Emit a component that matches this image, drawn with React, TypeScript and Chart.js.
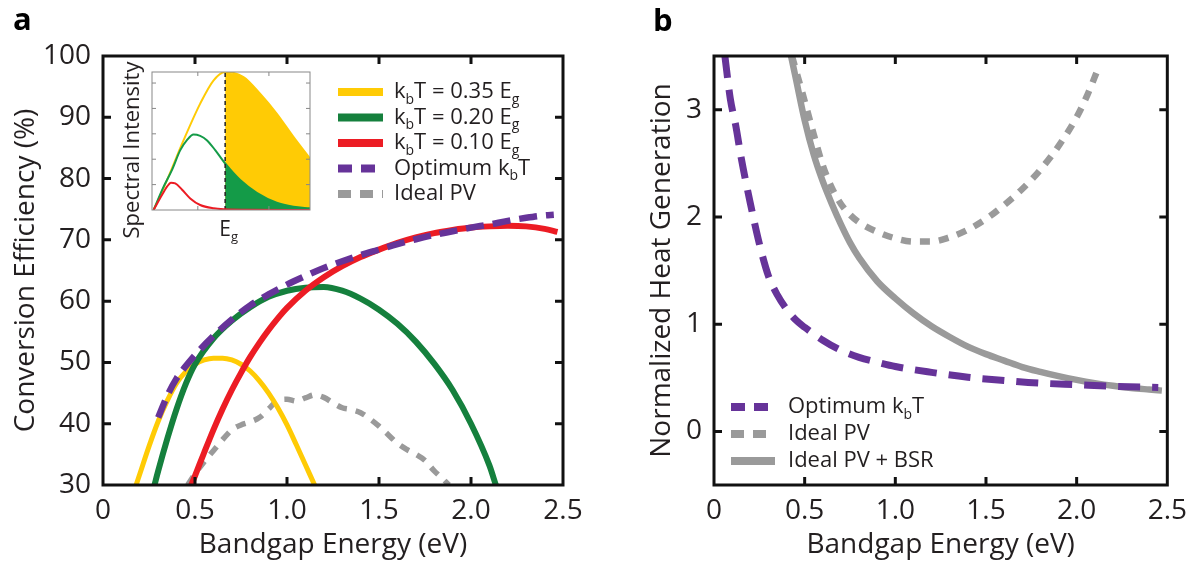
import React, { useEffect, useRef } from 'react';
import { Chart, registerables } from 'chart.js';

Chart.register(...registerables);

const FONT = "'Open Sans', 'Noto Sans', sans-serif";
const INK = '#231F20';

// ---------- Panel a ----------
const X_TICKS = [0, 0.5, 1.0, 1.5, 2.0, 2.5];
const A_Y_TICKS = [30, 40, 50, 60, 70, 80, 90, 100];

const KT_035: [number, number][] = [
  [0.18, 30], [0.2, 31.8], [0.25, 36.3], [0.3, 40.4], [0.35, 43.8], [0.4, 46.6], [0.45, 48.5],
  [0.5, 49.7], [0.55, 50.4], [0.6, 50.7], [0.65, 50.7], [0.7, 50.4], [0.75, 49.7], [0.8, 48.6],
  [0.85, 47.0], [0.9, 45.0], [0.95, 42.6], [1.0, 39.8], [1.05, 36.6], [1.1, 33.3], [1.15, 30],
];
const KT_020: [number, number][] = [
  [0.28, 30], [0.3, 32.3], [0.35, 37.6], [0.4, 42.4], [0.45, 46.5], [0.5, 49.7], [0.6, 53.9],
  [0.7, 56.8], [0.8, 59.0], [0.9, 60.7], [1.0, 61.7], [1.1, 62.2], [1.2, 62.3], [1.3, 61.7],
  [1.4, 60.4], [1.5, 58.6], [1.6, 56.3], [1.7, 53.4], [1.8, 49.8], [1.9, 45.5], [2.0, 40.0],
  [2.1, 33.2], [2.135, 30],
];
const KT_010: [number, number][] = [
  [0.48, 30], [0.5, 31.5], [0.55, 35.3], [0.6, 39.0], [0.65, 42.4], [0.7, 45.5], [0.75, 48.3],
  [0.8, 50.9], [0.85, 53.2], [0.9, 55.3], [0.95, 57.2], [1.0, 58.9], [1.1, 61.7], [1.2, 63.9],
  [1.3, 65.7], [1.4, 67.2], [1.5, 68.4], [1.6, 69.5], [1.7, 70.4], [1.8, 71.1], [1.9, 71.6],
  [2.0, 72.0], [2.1, 72.2], [2.2, 72.3], [2.3, 72.2], [2.4, 71.8], [2.47, 71.3],
];
const OPT_A: [number, number][] = [
  [0.3, 41.0], [0.35, 44.6], [0.4, 47.4], [0.45, 49.4], [0.5, 51.2], [0.6, 54.3], [0.7, 57.0],
  [0.8, 59.3], [0.9, 61.1], [1.0, 62.7], [1.1, 64.1], [1.2, 65.4], [1.3, 66.5], [1.4, 67.5],
  [1.5, 68.4], [1.6, 69.3], [1.7, 70.1], [1.8, 70.8], [1.9, 71.4], [2.0, 72.0], [2.1, 72.5],
  [2.2, 73.1], [2.3, 73.6], [2.4, 74.0], [2.45, 74.1],
];
const IDEAL_A: [number, number][] = [
  [0.46, 30], [0.5, 31.8], [0.55, 33.8], [0.6, 35.6], [0.65, 37.4], [0.7, 39.0], [0.75, 39.8],
  [0.8, 40.3], [0.85, 41.0], [0.9, 42.4], [0.95, 43.8], [1.0, 44.0], [1.05, 43.7], [1.1, 44.2],
  [1.15, 44.7], [1.2, 44.3], [1.25, 43.4], [1.3, 42.6], [1.35, 42.3], [1.4, 41.8], [1.45, 40.8],
  [1.5, 39.6], [1.55, 38.2], [1.6, 36.8], [1.65, 35.8], [1.7, 35.0], [1.75, 34.0], [1.8, 32.3],
  [1.85, 30.9], [1.88, 30],
];

// ---------- Panel b ----------
const B_Y_TICKS = [0, 1, 2, 3];
const OPT_B: [number, number][] = [
  [0.06, 3.5], [0.09, 3.1], [0.12, 2.85], [0.15, 2.55], [0.2, 2.13], [0.25, 1.75], [0.3, 1.45],
  [0.35, 1.27], [0.4, 1.14], [0.45, 1.04], [0.5, 0.97], [0.6, 0.85], [0.7, 0.755], [0.8, 0.69],
  [0.9, 0.645], [1.0, 0.605], [1.2, 0.55], [1.4, 0.505], [1.6, 0.475], [1.8, 0.45], [2.0, 0.435],
  [2.2, 0.42], [2.45, 0.41],
];
const IDEAL_B: [number, number][] = [
  [0.43, 3.5], [0.45, 3.38], [0.5, 3.08], [0.55, 2.77], [0.6, 2.48], [0.65, 2.27], [0.7, 2.12],
  [0.75, 2.02], [0.8, 1.95], [0.9, 1.86], [1.0, 1.8], [1.1, 1.77], [1.2, 1.77], [1.3, 1.81],
  [1.4, 1.88], [1.5, 1.98], [1.6, 2.11], [1.7, 2.26], [1.8, 2.44], [1.9, 2.66], [2.0, 2.93],
  [2.06, 3.14], [2.12, 3.39],
];
const IDEAL_BSR_B: [number, number][] = [
  [0.425, 3.5], [0.45, 3.3], [0.5, 2.9], [0.55, 2.58], [0.6, 2.33], [0.65, 2.12], [0.7, 1.93],
  [0.75, 1.76], [0.8, 1.62], [0.9, 1.4], [1.0, 1.24], [1.1, 1.1], [1.2, 0.98], [1.3, 0.88],
  [1.4, 0.79], [1.5, 0.72], [1.6, 0.66], [1.7, 0.6], [1.8, 0.555], [1.9, 0.515], [2.0, 0.48],
  [2.1, 0.45], [2.2, 0.425], [2.3, 0.405], [2.4, 0.39], [2.47, 0.38],
];

// ---------- Inset (arbitrary units) ----------
const INSET_EG = 4.63;
const INSET_X_TICKS = [2.9, 7.4];
const INSET_Y_TICKS = [0.184, 0.368, 0.552, 0.736, 0.92];
const SPEC_035: [number, number][] = [
  [0.1, 0], [0.95, 0.217], [2.0, 0.506], [3.05, 0.771], [3.9, 0.94], [4.63, 1.0], [5.79, 0.964],
  [6.84, 0.843], [7.89, 0.699], [8.95, 0.53], [10, 0.373],
];
const SPEC_020: [number, number][] = [
  [0.1, 0], [0.7, 0.16], [1.26, 0.289], [1.79, 0.434], [2.21, 0.506], [2.63, 0.547], [3.05, 0.537],
  [3.47, 0.506], [4.0, 0.434], [4.63, 0.337], [5.58, 0.217], [6.63, 0.125], [7.89, 0.053],
  [8.95, 0.024], [10, 0.012],
];
const SPEC_010: [number, number][] = [
  [0.1, 0], [0.63, 0.108], [0.95, 0.169], [1.2, 0.198], [1.47, 0.193], [1.89, 0.149], [2.42, 0.084],
  [3.05, 0.036], [3.9, 0.012], [4.63, 0.005], [6, 0.002], [10, 0],
];

type Seg = [string, boolean];
const LEGEND_A: Seg[][] = [
  [['k', false], ['b', true], ['T = 0.35 E', false], ['g', true]],
  [['k', false], ['b', true], ['T = 0.20 E', false], ['g', true]],
  [['k', false], ['b', true], ['T = 0.10 E', false], ['g', true]],
  [['Optimum k', false], ['b', true], ['T', false]],
  [['Ideal PV', false]],
];
const LEGEND_B: Seg[][] = [
  [['Optimum k', false], ['b', true], ['T', false]],
  [['Ideal PV', false]],
  [['Ideal PV + BSR', false]],
];
const INSET_EG_LABEL: Seg[] = [['E', false], ['g', true]];
const INSET_Y_TITLE = 'Spectral Intensity';

const YELLOW = '#FFCB05';
const GREEN = '#15803D';
const GREEN_INSET = '#149B48';
const RED = '#EC1C24';
const PURPLE = '#663399';
const GREY = '#9A9A9A';

const pts = (a: [number, number][]) => a.map(([x, y]) => ({ x, y }));

function drawRich(ctx: CanvasRenderingContext2D, x: number, y: number, segs: Seg[], size: number, color: string) {
  let cx = x;
  ctx.fillStyle = color;
  ctx.textBaseline = 'middle';
  ctx.textAlign = 'left';
  for (const [t, sub] of segs) {
    const s = sub ? Math.round(size * 0.64) : size;
    ctx.font = `${s}px ${FONT}`;
    ctx.fillText(t, cx, sub ? y + size * 0.36 : y);
    cx += ctx.measureText(t).width;
  }
  return cx - x;
}

// Frame with inward tick marks on all four sides, placed through the chart's own scales.
function makeFramePlugin(xTicks: number[], yTicks: number[], color: string, width: number, tickLen: number) {
  return {
    id: 'frame',
    afterDatasetsDraw(chart: any) {
      const ctx = chart.ctx as CanvasRenderingContext2D;
      const { left, right, top, bottom } = chart.chartArea;
      const xs = chart.scales.x;
      const ys = chart.scales.y;
      ctx.save();
      ctx.strokeStyle = color;
      ctx.lineWidth = width;
      ctx.setLineDash([]);
      ctx.lineCap = 'butt';
      ctx.beginPath();
      for (const v of xTicks) {
        const px = xs.getPixelForValue(v);
        if (px <= left + 2 || px >= right - 2) continue;
        ctx.moveTo(px, bottom); ctx.lineTo(px, bottom - tickLen);
        ctx.moveTo(px, top); ctx.lineTo(px, top + tickLen);
      }
      for (const v of yTicks) {
        const py = ys.getPixelForValue(v);
        if (py <= top + 2 || py >= bottom - 2) continue;
        ctx.moveTo(left, py); ctx.lineTo(left + tickLen, py);
        ctx.moveTo(right, py); ctx.lineTo(right - tickLen, py);
      }
      ctx.stroke();
      ctx.strokeRect(left, top, right - left, bottom - top);
      ctx.restore();
    },
  };
}

const legendPlugin = {
  id: 'richLegend',
  afterDatasetsDraw(chart: any, _a: any, opts: any) {
    if (!opts || !opts.items) return;
    const ctx = chart.ctx as CanvasRenderingContext2D;
    ctx.save();
    opts.items.forEach((it: any, i: number) => {
      const ds = chart.data.datasets[it.dataset];
      const y = opts.y0 + i * opts.dy;
      ctx.beginPath();
      ctx.setLineDash(it.dash ? [...it.dash] : []);
      ctx.lineWidth = opts.lineWidth;
      ctx.lineCap = 'butt';
      ctx.strokeStyle = ds.borderColor;
      ctx.moveTo(opts.x0, y);
      ctx.lineTo(opts.x1, y);
      ctx.stroke();
      ctx.setLineDash([]);
      drawRich(ctx, opts.textX, y, it.label, opts.size, INK);
    });
    ctx.restore();
  },
};

const labelPlugin = {
  id: 'panelLabel',
  afterDraw(chart: any, _a: any, opts: any) {
    if (!opts || !opts.text) return;
    const ctx = chart.ctx as CanvasRenderingContext2D;
    ctx.save();
    ctx.fillStyle = '#000';
    ctx.font = `bold ${opts.size}px ${FONT}`;
    ctx.textBaseline = 'alphabetic';
    ctx.textAlign = 'left';
    ctx.fillText(opts.text, opts.x, opts.y);
    ctx.restore();
  },
};

const insetTextPlugin = {
  id: 'insetText',
  afterDraw(chart: any, _a: any, opts: any) {
    if (!opts || !opts.label) return;
    const ctx = chart.ctx as CanvasRenderingContext2D;
    ctx.save();
    const px = chart.scales.x.getPixelForValue(opts.value);
    ctx.font = `${opts.size}px ${FONT}`;
    const wE = ctx.measureText(opts.label[0][0]).width;
    drawRich(ctx, px - wE / 2, opts.y, opts.label, opts.size, INK);
    ctx.translate(opts.titleX, opts.titleY);
    ctx.rotate(-Math.PI / 2);
    ctx.font = `${opts.titleSize}px ${FONT}`;
    ctx.textAlign = 'center';
    ctx.textBaseline = 'middle';
    ctx.fillStyle = INK;
    ctx.fillText(opts.title, 0, 0);
    ctx.restore();
  },
};

const fmtX = (v: any) => (Number(v) === 0 ? '0' : Number(v).toFixed(1));

function mainScales(yMin: number, yMax: number, yTicks: number[], yTitle: string, yAxisWidth: number, yTitlePad: number) {
  return {
    x: {
      type: 'linear',
      min: 0,
      max: 2.5,
      afterBuildTicks: (s: any) => { s.ticks = X_TICKS.map((v) => ({ value: v })); },
      afterFit: (s: any) => { s.height = 79; },
      grid: { display: false, drawTicks: false },
      border: { display: false },
      ticks: { autoSkip: false, maxRotation: 0, padding: 9, color: INK, font: { size: 28, family: FONT }, callback: fmtX },
      title: { display: true, text: 'Bandgap Energy (eV)', color: INK, font: { size: 28, family: FONT }, padding: { top: 0, bottom: 2 } },
    },
    y: {
      type: 'linear',
      min: yMin,
      max: yMax,
      afterBuildTicks: (s: any) => { s.ticks = yTicks.map((v) => ({ value: v })); },
      afterFit: (s: any) => { s.width = yAxisWidth; },
      grid: { display: false, drawTicks: false },
      border: { display: false },
      ticks: { autoSkip: false, padding: 12, color: INK, font: { size: 28, family: FONT }, callback: (v: any) => String(v) },
      title: { display: true, text: yTitle, color: INK, font: { size: 28, family: FONT }, padding: { top: yTitlePad, bottom: 0 } },
    },
  };
}

const lineDs = (data: [number, number][], color: string, width: number, dash: number[] = []) => ({
  data: pts(data),
  borderColor: color,
  backgroundColor: color,
  borderWidth: width,
  borderDash: dash,
  pointRadius: 0,
  fill: false,
  tension: 0.4,
  cubicInterpolationMode: 'monotone',
  borderCapStyle: 'butt',
});

function configA(): any {
  return {
    type: 'line',
    data: {
      datasets: [
        lineDs(OPT_A, PURPLE, 6.5, [18, 9]),
        lineDs(KT_010, RED, 6),
        lineDs(KT_020, GREEN, 6),
        lineDs(KT_035, YELLOW, 5),
        lineDs(IDEAL_A, GREY, 5.5, [10, 9]),
      ],
    },
    options: {
      animation: false,
      responsive: false,
      maintainAspectRatio: false,
      layout: { padding: { top: 56, right: 37, left: 0, bottom: 0 } },
      plugins: {
        legend: { display: false },
        tooltip: { enabled: false },
        richLegend: {
          x0: 338, x1: 383, textX: 394, y0: 92, dy: 25.5, lineWidth: 8, size: 22,
          items: [
            { dataset: 3, label: LEGEND_A[0] },
            { dataset: 2, label: LEGEND_A[1] },
            { dataset: 1, label: LEGEND_A[2] },
            { dataset: 0, label: LEGEND_A[3], dash: [14, 9] },
            { dataset: 4, label: LEGEND_A[4], dash: [13, 9] },
          ],
        },
        panelLabel: { text: 'a', x: 13, y: 30, size: 31 },
      },
      scales: mainScales(30, 100, A_Y_TICKS, 'Conversion Efficiency (%)', 103, 9),
    },
    plugins: [makeFramePlugin(X_TICKS, A_Y_TICKS, '#111', 3, 8), legendPlugin, labelPlugin],
  };
}

function configB(): any {
  return {
    type: 'line',
    data: {
      datasets: [
        lineDs(OPT_B, PURPLE, 7, [22, 12]),
        lineDs(IDEAL_B, GREY, 6.5, [10, 9]),
        lineDs(IDEAL_BSR_B, GREY, 6.5),
      ],
    },
    options: {
      animation: false,
      responsive: false,
      maintainAspectRatio: false,
      layout: { padding: { top: 56, right: 23, left: 0, bottom: 0 } },
      plugins: {
        legend: { display: false },
        tooltip: { enabled: false },
        richLegend: {
          x0: 131, x1: 175, textX: 188, y0: 407, dy: 27, lineWidth: 8, size: 22,
          items: [
            { dataset: 0, label: LEGEND_B[0], dash: [14, 9] },
            { dataset: 1, label: LEGEND_B[1], dash: [13, 9] },
            { dataset: 2, label: LEGEND_B[2] },
          ],
        },
        panelLabel: { text: 'b', x: 53, y: 31, size: 31 },
      },
      scales: mainScales(-0.5, 3.5, B_Y_TICKS, 'Normalized Heat Generation', 114, 45),
    },
    plugins: [makeFramePlugin(X_TICKS, B_Y_TICKS, '#111', 3, 8), legendPlugin, labelPlugin],
  };
}

function configInset(): any {
  const thin = (data: [number, number][], color: string) => ({
    data: pts(data), borderColor: color, borderWidth: 2, pointRadius: 0, fill: false,
    tension: 0.4, cubicInterpolationMode: 'monotone',
  });
  const area = (data: [number, number][], color: string) => ({
    data: pts(data.filter(([x]) => x >= INSET_EG)), borderColor: color, backgroundColor: color,
    borderWidth: 0, pointRadius: 0, fill: 'origin', tension: 0.4, cubicInterpolationMode: 'monotone',
  });
  return {
    type: 'line',
    data: {
      datasets: [
        thin(SPEC_010, RED),
        { data: [{ x: INSET_EG, y: 0 }, { x: INSET_EG, y: 1 }], borderColor: '#222', borderWidth: 1.5, borderDash: [4, 3], pointRadius: 0, fill: false, tension: 0 },
        thin(SPEC_020, GREEN_INSET),
        area(SPEC_020, GREEN_INSET),
        thin(SPEC_035, YELLOW),
        area(SPEC_035, YELLOW),
      ],
    },
    options: {
      animation: false,
      responsive: false,
      maintainAspectRatio: false,
      layout: { padding: { top: 12, right: 10, left: 0, bottom: 0 } },
      plugins: {
        legend: { display: false },
        tooltip: { enabled: false },
        insetText: {
          value: INSET_EG, y: 170, size: 21, label: INSET_EG_LABEL,
          title: INSET_Y_TITLE, titleX: 33, titleY: 90, titleSize: 22,
        },
      },
      scales: {
        x: {
          type: 'linear', min: 0, max: 10,
          afterBuildTicks: (s: any) => { s.ticks = INSET_X_TICKS.map((v) => ({ value: v })); },
          afterFit: (s: any) => { s.height = 45; },
          grid: { display: false, drawTicks: false }, border: { display: false },
          ticks: { display: false },
        },
        y: {
          type: 'linear', min: 0, max: 1,
          afterBuildTicks: (s: any) => { s.ticks = INSET_Y_TICKS.map((v) => ({ value: v })); },
          afterFit: (s: any) => { s.width = 52; },
          grid: { display: false, drawTicks: false }, border: { display: false },
          ticks: { display: false },
        },
      },
    },
    plugins: [makeFramePlugin(INSET_X_TICKS, INSET_Y_TICKS, '#888', 1, 4), insetTextPlugin],
  };
}

export default function App() {
  const aRef = useRef<HTMLCanvasElement>(null);
  const bRef = useRef<HTMLCanvasElement>(null);
  const iRef = useRef<HTMLCanvasElement>(null);

  useEffect(() => {
    Chart.defaults.font.family = FONT;
    const charts = [
      new Chart(aRef.current as HTMLCanvasElement, configA()),
      new Chart(bRef.current as HTMLCanvasElement, configB()),
      new Chart(iRef.current as HTMLCanvasElement, configInset()),
    ];
    return () => charts.forEach((c) => c.destroy());
  }, []);

  return (
    <div style={{ position: 'absolute', left: 0, top: 0, width: 1196, height: 564, background: '#fff', overflow: 'hidden' }}>
      <canvas ref={aRef} width={600} height={564} style={{ position: 'absolute', left: 0, top: 0, width: 600, height: 564 }} />
      <canvas ref={iRef} width={220} height={195} style={{ position: 'absolute', left: 100, top: 60, width: 220, height: 195 }} />
      <canvas ref={bRef} width={596} height={564} style={{ position: 'absolute', left: 600, top: 0, width: 596, height: 564 }} />
    </div>
  );
}
